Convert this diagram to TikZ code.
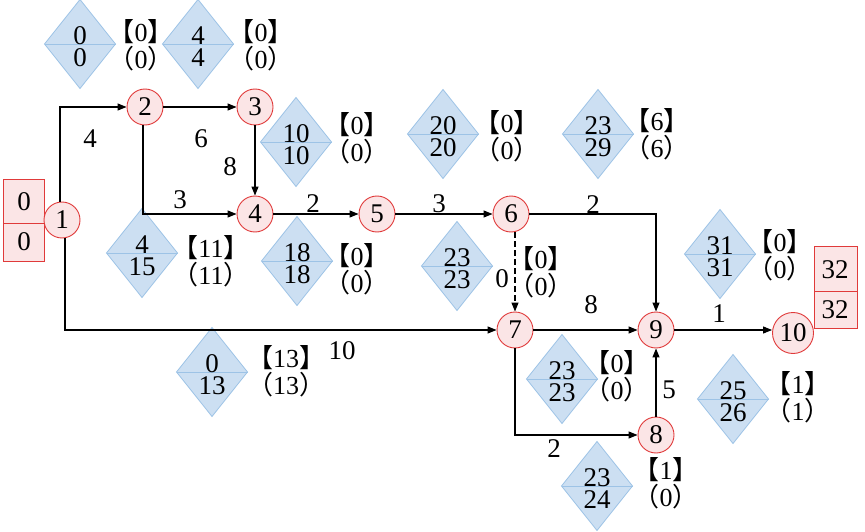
\documentclass[tikz,border=0pt]{standalone}
\usepackage{fontspec}
\setmainfont{Liberation Serif}
\newfontfamily\cjk{Noto Sans CJK SC}
\usetikzlibrary{arrows.meta}
\definecolor{cred}{HTML}{E03A3A}
\definecolor{cpink}{HTML}{FBE5E6}
\definecolor{cblue}{HTML}{CCDFF2}
\definecolor{cblueline}{HTML}{9DC3E6}
\tikzset{
  ev/.style={circle, draw=cred, fill=cpink, line width=0.9pt, minimum size=36pt, inner sep=0pt, font=\rmfamily\fontsize{27}{27}\selectfont},
  edge/.style={line width=1.1pt, -{Triangle[length=9pt,width=7pt]}},
  lab/.style={font=\rmfamily\fontsize{27}{27}\selectfont, inner sep=0pt},
  dnum/.style={font=\rmfamily\fontsize{27}{22}\selectfont, inner sep=0pt, align=center},
  bnum/.style={font=\rmfamily\fontsize{26}{27}\selectfont, inner sep=0pt, align=center},
  dshape/.style={fill=cblue, draw=cblueline, line width=0.8pt},
  dline/.style={draw=cblueline, line width=0.8pt},
  rbox/.style={draw=cred, fill=cpink, line width=0.9pt},
}
\newcommand\dia[9]{%
  \draw[dshape] (#2-35.5,#3) -- (#2,#3-44.5) -- (#2+35.5,#3) -- (#2,#3+44.5) -- cycle;
  \draw[dline] (#2-35.5,#3) -- (#2+35.5,#3);
  \node[dnum] (#1t) at (#2,#3+2.5) {#4\\#5};
  \node[bnum] (#1k) at (#6,#7+13) {{\cjk 【}#8{\cjk 】}\\{\cjk （}#9{\cjk ）}};
}
\begin{document}
\begin{tikzpicture}[x=1pt,y=-1pt]
\useasboundingbox (0,0) rectangle (865,532);
% diamonds
\dia{da}{80}{44}{0}{0}{141}{32}{0}{0}
\dia{db}{198}{44}{4}{4}{261}{32}{0}{0}
\dia{dc}{296}{142}{10}{10}{357}{125}{0}{0}
\dia{dd}{443}{134}{20}{20}{507}{123}{0}{0}
\dia{de}{598}{134}{23}{29}{657}{121}{6}{6}
\dia{df}{142}{253}{4}{15}{211}{248}{11}{11}
\dia{dg}{297}{261}{18}{18}{357}{256}{0}{0}
\dia{dh}{457}{266}{23}{23}{541}{259}{0}{0}
\dia{di}{720}{254}{31}{31}{780}{242}{0}{0}
\dia{dj}{212}{372}{0}{13}{286}{358}{13}{13}
\dia{dk}{562}{379}{23}{23}{617}{363}{0}{0}
\dia{dl}{733}{399}{25}{26}{798}{384}{1}{1}
\dia{dm}{597}{486}{23}{24}{666}{470}{1}{0}
% boxes
\draw[rbox] (3,179) rectangle (44,261);
\draw[rbox] (3,223) -- (44,223);
\node[lab] (bl1) at (24,202) {0};
\node[lab] (bl2) at (24,242) {0};
\draw[rbox] (814,246) rectangle (857,328);
\draw[rbox] (814,291) -- (857,291);
\node[lab] (br1) at (835,270) {32};
\node[lab] (br2) at (835,310) {32};
% events
\node[ev] (n1) at (62,220) {1};
\node[ev] (n2) at (145,107) {2};
\node[ev] (n3) at (255,107) {3};
\node[ev] (n4) at (255,214) {4};
\node[ev] (n5) at (377,214) {5};
\node[ev] (n6) at (511,214) {6};
\node[ev] (n7) at (515,330) {7};
\node[ev] (n8) at (656,435) {8};
\node[ev] (n9) at (656,330) {9};
\node[ev, minimum size=41pt] (n10) at (793,333) {10};
% edges
\draw[edge] ([xshift=-2pt]n1.north) |- (n2);
\draw[edge] (n2) -- (n3);
\draw[edge] (n3) -- (n4);
\draw[edge] ([xshift=-2pt]n2.south) |- (n4);
\draw[edge] (n4) -- (n5);
\draw[edge] (n5) -- (n6);
\draw[edge] (n6) -| (n9);
\draw[edge, dash pattern=on 6pt off 3pt] (n6.south -| n7.north) -- (n7.north);
\draw[edge] ([xshift=3pt]n1.south) |- (n7);
\draw[edge] (n7) -- (n9);
\draw[edge] (n7.south) |- (n8);
\draw[edge] (n8) -- (n9);
\draw[edge] (n9) -- (n10.west |- n9);
% edge labels
\node[lab] (l12) at (90,139) {4};
\node[lab] (l23) at (201,139) {6};
\node[lab] (l34) at (230,167) {8};
\node[lab] (l24) at (180,200) {3};
\node[lab] (l45) at (313,204) {2};
\node[lab] (l56) at (439,204) {3};
\node[lab] (l69) at (593,205) {2};
\node[lab] (l67) at (502,279) {0};
\node[lab] (l17) at (342,351) {10};
\node[lab] (l79) at (591,305) {8};
\node[lab] (l78) at (554,449) {2};
\node[lab] (l89) at (669,390) {5};
\node[lab] (l910) at (719,314) {1};
\end{tikzpicture}
\end{document}
